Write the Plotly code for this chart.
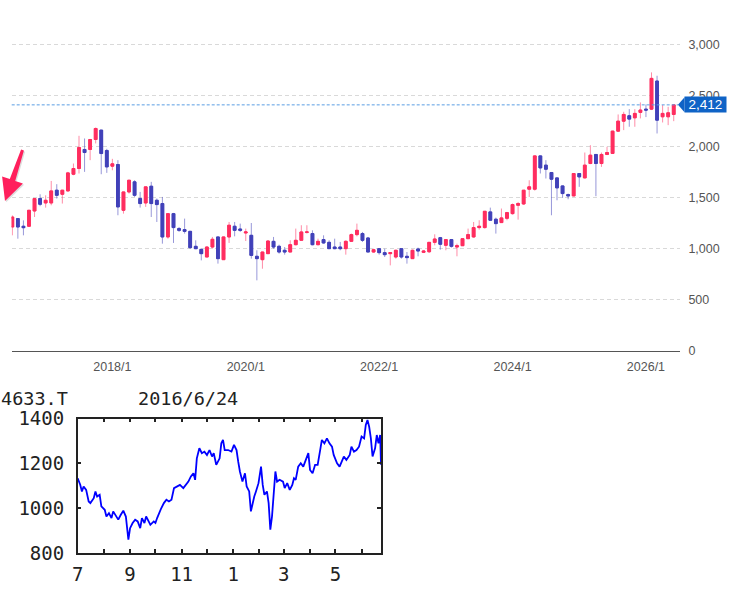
import plotly.graph_objects as go
import pandas as pd

W, H = 732, 589

# ---------------- monthly candles (2016/7 .. 2026/6) ----------------
months = []
y, m = 2016, 7
for _ in range(120):
    months.append(f"{y}/{m}")
    m += 1
    if m > 12:
        m = 1
        y += 1

open_ = [1213, 1295, 1220, 1220, 1370, 1492, 1449, 1449, 1574, 1534,
         1567, 1731, 1787, 1974, 1974, 2072, 2164, 1964, 1810, 1826,
         1377, 1557, 1656, 1492, 1449, 1613, 1475, 1443, 1115, 1344,
         1197, 1187, 1170, 1023, 993, 918, 1016, 1115, 892, 1115,
         1220, 1193, 1154, 1131, 925, 892, 951, 1072, 1023, 984,
         967, 1039, 1082, 1160, 1148, 1039, 1089, 1062, 1016, 1016,
         1000, 1072, 1138, 1148, 1105, 967, 1000, 961, 951, 918,
         1000, 925, 902, 997, 964, 970, 1062, 1108, 1033, 1089,
         1016, 1029, 1098, 1115, 1207, 1207, 1361, 1289, 1256, 1298,
         1344, 1426, 1439, 1584, 1584, 1911, 1820, 1748, 1695, 1616,
         1531, 1518, 1738, 1695, 1836, 1925, 1836, 1925, 1935, 2154,
         2252, 2305, 2285, 2338, 2370, 2370, 2646, 2295, 2295, 2318]
high = [1327, 1300, 1278, 1380, 1495, 1534, 1524, 1665, 1633, 1577,
        1754, 1836, 2108, 2082, 2075, 2190, 2167, 1980, 1882, 1869,
        1560, 1675, 1672, 1557, 1607, 1656, 1492, 1508, 1344, 1351,
        1213, 1295, 1175, 1082, 995, 1023, 1115, 1118, 1118, 1262,
        1262, 1246, 1197, 1252, 984, 970, 1082, 1115, 1039, 1016,
        1082, 1197, 1230, 1230, 1180, 1098, 1131, 1082, 1098, 1066,
        1082, 1148, 1246, 1164, 1115, 1000, 1006, 1000, 967, 990,
        1000, 967, 990, 1010, 984, 1062, 1141, 1115, 1089, 1095,
        1049, 1098, 1197, 1262, 1279, 1367, 1403, 1305, 1394, 1361,
        1443, 1459, 1574, 1672, 1915, 1915, 1869, 1751, 1698, 1620,
        1541, 1741, 1741, 1944, 2016, 1928, 1944, 2000, 2157, 2318,
        2344, 2370, 2370, 2436, 2416, 2731, 2698, 2410, 2393, 2420]
low = [1131, 1098, 1131, 1213, 1311, 1417, 1403, 1426, 1492, 1443,
       1560, 1721, 1738, 1754, 1869, 2033, 1731, 1744, 1770, 1328,
       1344, 1541, 1508, 1403, 1410, 1311, 1262, 1049, 1098, 1056,
       1164, 1148, 1000, 995, 885, 918, 1000, 853, 890, 1056,
       1121, 1164, 1075, 902, 689, 803, 951, 1000, 951, 941,
       967, 1033, 1082, 1148, 1033, 1033, 1049, 1000, 995, 984,
       941, 1066, 1121, 1066, 967, 961, 941, 918, 836, 902,
       902, 853, 902, 925, 957, 957, 1033, 990, 984, 1010,
       925, 1029, 1098, 1108, 1187, 1197, 1279, 1148, 1256, 1279,
       1334, 1285, 1430, 1508, 1570, 1738, 1689, 1328, 1475, 1498,
       1485, 1515, 1607, 1690, 1830, 1515, 1803, 1918, 1931, 2147,
       2164, 2197, 2197, 2279, 2292, 2361, 2131, 2239, 2213, 2252]
close = [1311, 1213, 1206, 1377, 1492, 1436, 1475, 1567, 1524, 1574,
         1744, 1787, 1993, 1944, 2072, 2180, 1934, 1803, 1833, 1410,
         1557, 1672, 1524, 1443, 1607, 1443, 1433, 1115, 1344, 1207,
         1180, 1170, 1010, 1000, 951, 1016, 1092, 902, 1115, 1230,
         1180, 1180, 1164, 934, 902, 967, 1075, 1016, 967, 967,
         1039, 1082, 1164, 1164, 1039, 1072, 1056, 1000, 1000, 1000,
         1072, 1138, 1180, 1082, 967, 990, 961, 941, 961, 984,
         918, 912, 984, 977, 977, 1062, 1095, 1043, 1089, 1023,
         1029, 1098, 1138, 1207, 1220, 1367, 1279, 1246, 1302, 1354,
         1433, 1443, 1574, 1607, 1911, 1793, 1780, 1682, 1597, 1541,
         1518, 1738, 1705, 1820, 1918, 1836, 1925, 1944, 2154, 2252,
         2318, 2272, 2328, 2361, 2361, 2672, 2262, 2328, 2334, 2412]

year_ticks = ["2018/1", "2020/1", "2022/1", "2024/1", "2026/1"]
price_ticks = [0, 500, 1000, 1500, 2000, 2500, 3000]
last_price = close[-1]

# ---------------- small daily chart 4633.T (2015/7 .. 2016/6/24) ----------------
mini_start = "2015-07-01"
mini_end = "2016-06-24"
mini_days = [0, 3, 5, 7, 10, 13, 15, 19, 21, 23, 26, 28, 32, 34, 37, 40, 42, 45, 48, 51,
             54, 57, 59, 60, 62, 65, 68, 71, 74, 76, 79, 81, 84, 86, 90, 92, 94, 97, 99, 102,
             105, 108, 111, 114, 117, 121, 125, 128, 131, 134, 137, 139, 141, 144, 147, 150, 153, 156, 159, 161,
             164, 168, 170, 172, 174, 178, 182, 185, 188, 190, 192, 195, 198, 200, 203, 205, 207, 209, 211, 214,
             217, 219, 221, 224, 226, 228, 230, 232, 234, 236, 239, 243, 245, 248, 251, 254, 256, 258, 261, 264,
             267, 270, 273, 275, 278, 281, 284, 287, 289, 292, 295, 298, 301, 303, 307, 310, 312, 315, 318, 322,
             324, 327, 330, 333, 336, 339, 341, 343, 345, 347, 349, 352, 354, 356, 358, 359]
mini_vals = [1134, 1105, 1075, 1097, 1082, 1030, 1023, 1045, 1075, 1052, 1060, 1008, 993, 963, 978, 956, 986, 968, 949, 971,
             989, 963, 897, 860, 911, 934, 949, 941, 911, 956, 934, 963, 941, 926, 941, 934, 956, 986, 1001, 1023,
             1038, 1030, 1038, 1090, 1097, 1104, 1090, 1104, 1119, 1142, 1156, 1127, 1223, 1268, 1246, 1253, 1238, 1260, 1231, 1246,
             1194, 1223, 1290, 1305, 1260, 1260, 1253, 1283, 1260, 1208, 1164, 1119, 1156, 1097, 1075, 986, 1023, 1052, 1075, 1112,
             1186, 1104, 1060, 1075, 1023, 904, 963, 1075, 1164, 1119, 1127, 1119, 1090, 1112, 1082, 1104, 1134, 1127, 1186, 1201,
             1186, 1216, 1246, 1171, 1156, 1194, 1194, 1260, 1305, 1290, 1312, 1290, 1275, 1238, 1201, 1186, 1201, 1231, 1216, 1238,
             1275, 1253, 1260, 1275, 1320, 1312, 1372, 1394, 1364, 1312, 1231, 1268, 1327, 1290, 1327, 1194]
mini_month_ticks = ["2015-07-01", "2015-09-01", "2015-11-01", "2016-01-01", "2016-03-01", "2016-05-01"]
mini_month_text = ["7", "9", "11", "1", "3", "5"]
mini_price_ticks = [800, 1000, 1200, 1400]
mini_title = "4633.T"
mini_date = "2016/6/24"

RED = "#ff2d5f"
BLUE = "#4141b9"
RED_W = "rgba(255,45,95,0.55)"
BLUE_W = "rgba(65,65,185,0.55)"

xs = list(range(len(months)))
body_hi = [max(o, c) for o, c in zip(open_, close)]
body_lo = [min(o, c) for o, c in zip(open_, close)]

fig = go.Figure()
# wicks (lighter)
fig.add_trace(go.Candlestick(
    x=xs, open=open_, high=high, low=low, close=close,
    increasing=dict(line=dict(color=RED_W, width=1), fillcolor=RED_W),
    decreasing=dict(line=dict(color=BLUE_W, width=1), fillcolor=BLUE_W),
    whiskerwidth=0, hoverinfo="skip", showlegend=False))
# bodies (solid)
fig.add_trace(go.Candlestick(
    x=xs, open=open_, high=body_hi, low=body_lo, close=close,
    increasing=dict(line=dict(color=RED, width=1), fillcolor=RED),
    decreasing=dict(line=dict(color=BLUE, width=1), fillcolor=BLUE),
    whiskerwidth=0, showlegend=False))

mini_dates = [pd.Timestamp(mini_start) + pd.Timedelta(days=d) for d in mini_days]
fig.add_trace(go.Scatter(x=mini_dates, y=mini_vals, xaxis="x2", yaxis="y2",
                         mode="lines", line=dict(color="#0000ff", width=1.8),
                         showlegend=False))

top_font = dict(family="Liberation Sans, Arial, sans-serif", size=12.5, color="#555")
mono = dict(family="DejaVu Sans Mono, monospace", size=19, color="#222")
mono_t = dict(family="DejaVu Sans Mono, monospace", size=18.5, color="#222")

x_left, x_right = 11.7, 680.4
y_zero_px, y_top_px = 350.5, 34.8
y_top_val = 3100

fig.update_layout(
    width=W, height=H, margin=dict(l=0, r=0, t=0, b=0, pad=0, autoexpand=False),
    paper_bgcolor="white", plot_bgcolor="white", showlegend=False,
    boxgap=0.28,
    xaxis=dict(domain=[x_left / W, x_right / W], range=[-0.11, 120.2],
               tickmode="array", tickvals=[months.index(t) for t in year_ticks],
               ticktext=year_ticks, showgrid=False, zeroline=False,
               showline=True, linecolor="#555", linewidth=1.2, ticks="",
               tickfont=top_font, ticklabelstandoff=4, automargin=False,
               rangeslider=dict(visible=False), anchor="y"),
    yaxis=dict(domain=[1 - y_zero_px / H, 1 - y_top_px / H], range=[0, y_top_val],
               side="right", tickmode="array", tickvals=price_ticks, tickformat=",",
               showgrid=True, gridcolor="#d9d9d9", griddash="4px,3px", gridwidth=1,
               zeroline=False, showline=False, ticks="", tickfont=top_font,
               ticklabelstandoff=7, automargin=False, anchor="x"),
    xaxis2=dict(domain=[77.7 / W, 381.0 / W], type="date",
                range=[mini_start, mini_end], tickmode="array",
                tickvals=mini_month_ticks, ticktext=mini_month_text,
                showgrid=False, zeroline=False, showline=True, linecolor="#222",
                linewidth=1.5, mirror="allticks", ticks="inside", ticklen=4,
                tickcolor="#222", tickwidth=1.5,
                minor=dict(ticks="inside", ticklen=4, tickcolor="#222", tickwidth=1.5,
                           dtick="M1", tick0=mini_start),
                tickfont=mono, ticklabelstandoff=3, automargin=False, anchor="y2"),
    yaxis2=dict(domain=[1 - 553.0 / H, 1 - 418.7 / H], range=[800, 1400],
                tickmode="array", tickvals=mini_price_ticks,
                showgrid=False, zeroline=False, showline=True, linecolor="#222",
                linewidth=1.5, mirror="allticks", ticks="inside", ticklen=4,
                tickcolor="#222", tickwidth=1.5,
                tickfont=mono, ticklabelstandoff=8, automargin=False, anchor="x2"),
)

# current price line + label
fig.add_shape(type="line", xref="x domain", yref="y", x0=0, x1=(678 - x_left) / (x_right - x_left),
              y0=last_price, y1=last_price, line=dict(color="#5a9de3", width=1, dash="3px,2px"))
LBL = "#0f63c6"
fig.add_shape(type="path", xref="paper", yref="y", xsizemode="pixel", ysizemode="pixel",
              xanchor=684 / W, yanchor=last_price, path="M0.5,-7.5 L-6,0 L0.5,7.5 Z",
              fillcolor=LBL, line=dict(width=0))
fig.add_annotation(x=684 / W, xref="paper", xanchor="left", y=last_price, yref="y",
                   yanchor="middle", text=f"{last_price:,}", showarrow=False,
                   bgcolor=LBL, borderpad=1, width=39, height=13,
                   font=dict(family="Liberation Sans, Arial, sans-serif", size=13.5, color="white"))

# red pointer arrow at the start of the chart
def P(x, y):
    return f"{x / W:.5f},{1 - y / H:.5f}"

arrow_pts = [(21.1, 149.5), (9.8, 179.1), (2.1, 176.5), (5.0, 201.0),
             (22.9, 183.5), (15.2, 180.9), (23.9, 150.5)]
shadow = "M" + " L".join(P(x + 1.2, y + 1.2) for x, y in arrow_pts) + " Z"
arrow = "M" + " L".join(P(x, y) for x, y in arrow_pts) + " Z"
fig.add_shape(type="path", xref="paper", yref="paper", path=shadow,
              fillcolor="rgba(120,120,120,0.25)", line=dict(width=0))
fig.add_shape(type="path", xref="paper", yref="paper", path=arrow,
              fillcolor="#ff1f5c", line=dict(width=0))

# mini chart title texts
fig.add_annotation(x=0, y=1 - 398.7 / H, xref="paper", yref="paper", xanchor="left",
                   yanchor="middle", text=mini_title, showarrow=False, font=mono_t,
                   borderpad=0)
fig.add_annotation(x=137.3 / W, y=1 - 398.7 / H, xref="paper", yref="paper", xanchor="left",
                   yanchor="middle", text=mini_date, showarrow=False, font=mono_t,
                   borderpad=0)

fig.write_html("out.html")
